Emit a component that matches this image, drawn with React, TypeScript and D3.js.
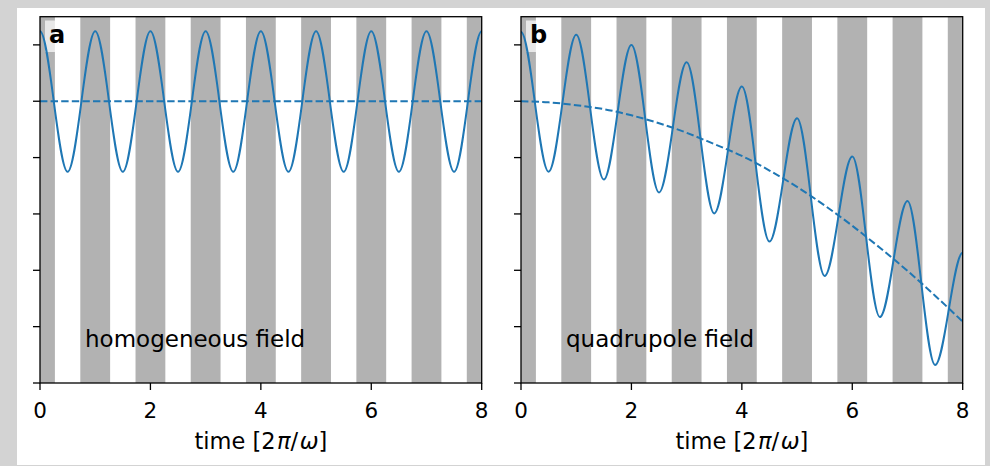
import React from "react";
import * as d3 from "d3";

// ---- data ----
const extremaTimes = [0, 0.5, 1, 1.5, 2, 2.5, 3, 3.5, 4, 4.5, 5, 5.5, 6, 6.5, 7, 7.5, 8];
const homogeneousExtrema = [1.24, -1.25, 1.24, -1.25, 1.24, -1.25, 1.24, -1.25, 1.24, -1.25, 1.24, -1.25, 1.24, -1.25, 1.24, -1.25, 1.24];
const quadrupoleExtrema = [1.23, -1.25, 1.18, -1.39, 1.0, -1.62, 0.69, -1.99, 0.26, -2.49, -0.3, -3.1, -0.98, -3.83, -1.77, -4.68, -2.69];
const guideTimes = [0, 0.5, 1, 1.5, 2, 2.5, 3, 3.5, 4, 4.5, 5, 5.5, 6, 6.5, 7, 7.5, 8];
const homogeneousGuide = [0, 0, 0, 0, 0, 0, 0, 0, 0, 0, 0, 0, 0, 0, 0, 0, 0];
const quadrupoleGuide = [0, -0.02, -0.07, -0.14, -0.25, -0.39, -0.56, -0.76, -0.97, -1.23, -1.52, -1.85, -2.21, -2.6, -3.01, -3.45, -3.91];
const bandCenters = [0, 1, 2, 3, 4, 5, 6, 7, 8];
const bandHalfWidth = 0.27;
const xTicks = [0, 2, 4, 6, 8];
const yTicks = [1, 0, -1, -2, -3, -4, -5];
const panelLetters = ["a", "b"];
const panelTitles = ["homogeneous field", "quadrupole field"];
const xLabelParts = [
  { t: "time [2", italic: false },
  { t: "\u03c0", italic: true },
  { t: "/", italic: false },
  { t: "\u03c9", italic: true },
  { t: "]", italic: false },
];

// curve through extrema: cubic with horizontal tangent at every point
class ExtremaCurve {
  _context: any; _x = NaN; _y = NaN; _point = 0;
  constructor(ctx: any) { this._context = ctx; }
  areaStart() {} areaEnd() {}
  lineStart() { this._point = 0; }
  lineEnd() {}
  point(x: number, y: number) {
    x = +x; y = +y;
    if (this._point === 0) { this._context.moveTo(x, y); this._point = 1; }
    else {
      const h = x - this._x;
      this._context.bezierCurveTo(this._x + h / 3, this._y, x - h / 3, y, x, y);
    }
    this._x = x; this._y = y;
  }
}
const curveExtrema: any = (ctx: any) => new ExtremaCurve(ctx);

const W = 990, H = 466;
const TOP = 16.7, BOTTOM = 383;
const panels = [
  { left: 40, right: 481.7, osc: homogeneousExtrema, guide: homogeneousGuide },
  { left: 521, right: 962.7, osc: quadrupoleExtrema, guide: quadrupoleGuide },
];
const BLUE = "#1f77b4";
const FONT = "DejaVu Sans, sans-serif";

function Panel({ p, i }: { p: typeof panels[0]; i: number }) {
  const x = d3.scaleLinear().domain([0, 8]).range([p.left, p.right]);
  const y = d3.scaleLinear().domain([-5, 1.5]).range([BOTTOM, TOP]);
  const osc = d3.line<number>().x((_, k) => x(extremaTimes[k])).y((d) => y(d)).curve(curveExtrema);
  const guide = d3.line<number>().x((_, k) => x(guideTimes[k])).y((d) => y(d)).curve(d3.curveNatural);
  const clipId = `clip${i}`;
  return (
    <g>
      <clipPath id={clipId}>
        <rect x={p.left} y={TOP} width={p.right - p.left} height={BOTTOM - TOP} />
      </clipPath>
      <g clipPath={`url(#${clipId})`}>
        {bandCenters.map((c) => (
          <rect key={c} x={x(c - bandHalfWidth)} y={TOP} width={x(c + bandHalfWidth) - x(c - bandHalfWidth)} height={BOTTOM - TOP} fill="#b2b2b2" />
        ))}
        <rect x={p.left + 5} y={20.5} width={24} height={31.5} fill="white" fillOpacity={0.7} />
        <path d={guide(p.guide) || ""} fill="none" stroke={BLUE} strokeWidth={2} strokeDasharray="7.4,3.2" />
        <path d={osc(p.osc) || ""} fill="none" stroke={BLUE} strokeWidth={2} />
      </g>
      <text x={p.left + 9} y={43} fontFamily={FONT} fontWeight="bold" fontSize={24} fill="black">{panelLetters[i]}</text>
      <text x={p.left + 45} y={347} fontFamily={FONT} fontSize={23} fill="black">{panelTitles[i]}</text>
      <rect x={p.left} y={TOP} width={p.right - p.left} height={BOTTOM - TOP} fill="none" stroke="black" strokeWidth={1.3} />
      {yTicks.map((t) => (
        <line key={t} x1={p.left - 7} x2={p.left} y1={y(t)} y2={y(t)} stroke="black" strokeWidth={1.3} />
      ))}
      {xTicks.map((t) => (
        <g key={t}>
          <line x1={x(t)} x2={x(t)} y1={BOTTOM} y2={BOTTOM + 7} stroke="black" strokeWidth={1.3} />
          <text x={x(t)} y={418} textAnchor="middle" fontFamily={FONT} fontSize={21.5} fill="black">{t}</text>
        </g>
      ))}
      <text x={(p.left + p.right) / 2} y={449} textAnchor="middle" fontFamily={FONT} fontSize={22.5} fill="black">
        {xLabelParts.map((s, k) => (
          <tspan key={k} fontStyle={s.italic ? "italic" : "normal"} dx={s.italic ? 1.5 : 0}>{s.t}</tspan>
        ))}
      </text>
    </g>
  );
}

export default function App() {
  return (
    <svg width={W} height={H} style={{ position: "absolute", left: 0, top: 0 }}>
      <rect x={0} y={0} width={W} height={H} fill="#d3d3d3" />
      <rect x={17} y={8} width={968} height={457} fill="white" />
      {panels.map((p, i) => <Panel key={i} p={p} i={i} />)}
    </svg>
  );
}
